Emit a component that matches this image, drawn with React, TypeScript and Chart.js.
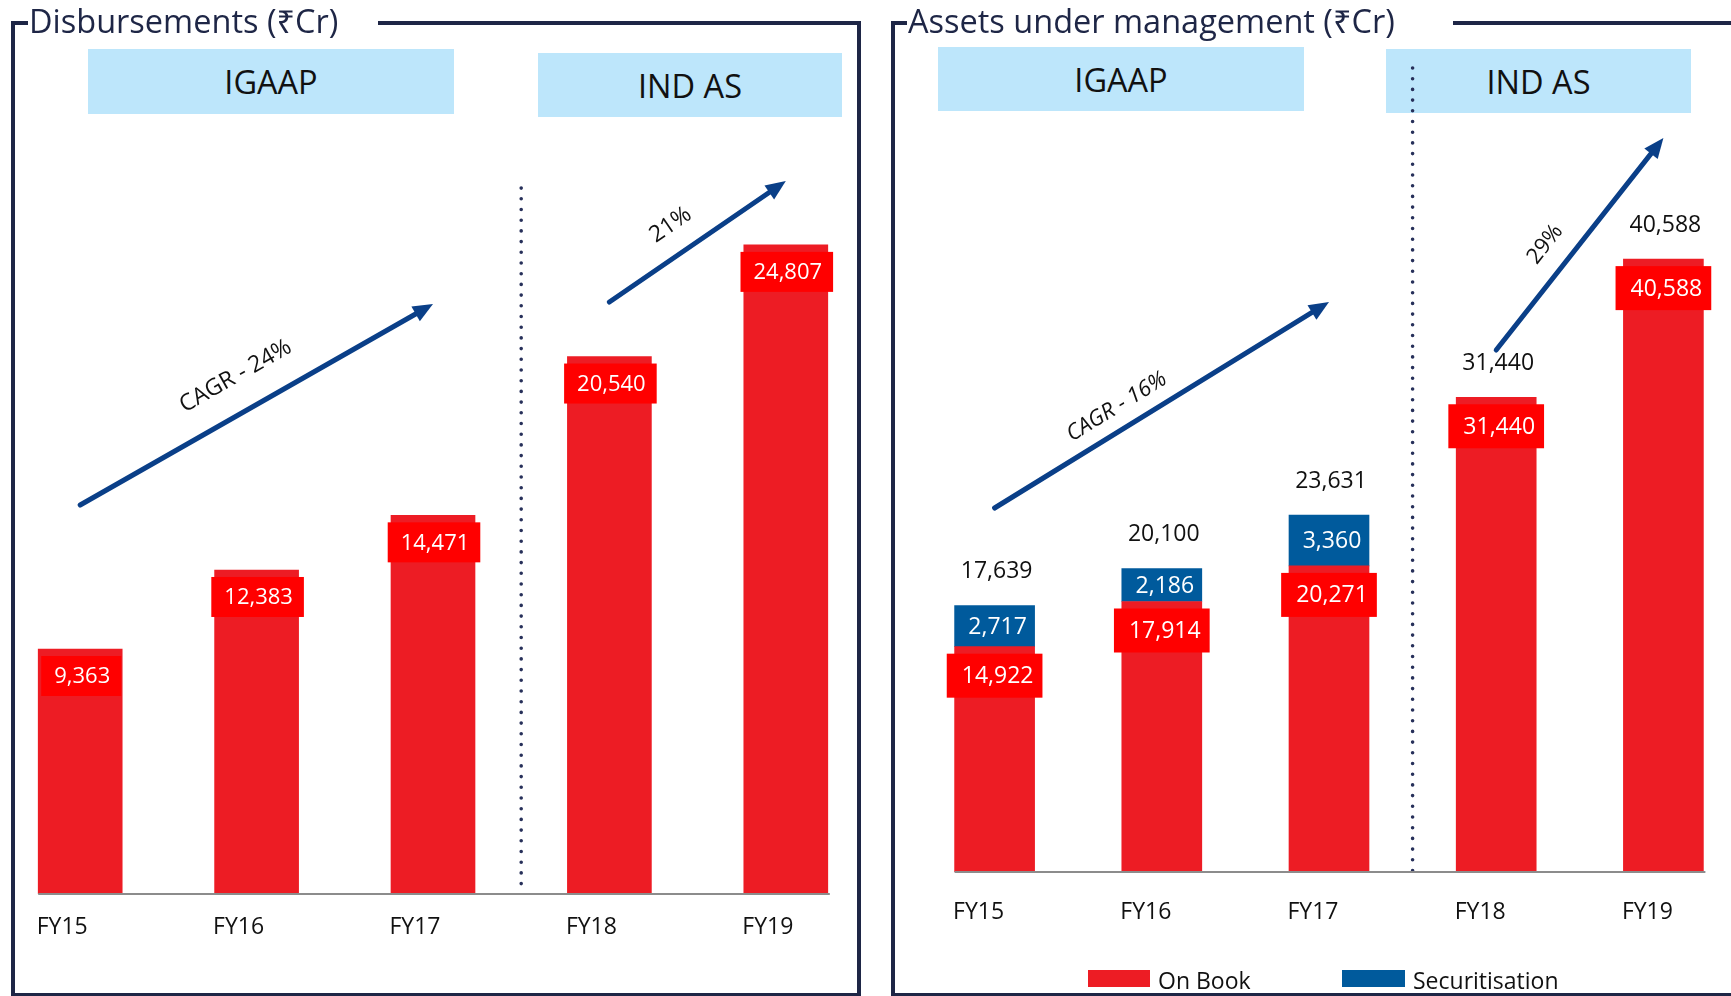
import React, { useEffect, useRef } from "react";
import { Chart, registerables } from "chart.js";

Chart.register(...registerables);

// ---------- data ----------
const categories = ["FY15", "FY16", "FY17", "FY18", "FY19"];
const disbursements = [9363, 12383, 14471, 20540, 24807];
const aumOnBook = [14922, 17914, 20271, 31440, 40588];
const aumSecuritisation = [2717, 2186, 3360, null, null];
const aumTotal = [17639, 20100, 23631, 31440, 40588];

// growth arrows (category index, value)
const disbGrowth = [
  { from: 0, to: 2, fromValue: 14865, toValue: 22545, label: "CAGR - 24%" },
  { from: 3, to: 4, fromValue: 22622, toValue: 27245, label: "21%" },
];
const aumGrowth = [
  { from: 0, to: 2, fromValue: 24106, toValue: 37748, label: "CAGR - 16%" },
  { from: 3, to: 4, fromValue: 34570, toValue: 48609, label: "29%" },
];

// ---------- styles ----------
const disbGrowthLabelPos = [
  { t: 0.49, off: 35, italic: false },
  { t: 0.44, off: 29, italic: false },
];
const aumGrowthLabelPos = [
  { t: 0.4, off: 22, italic: true },
  { t: 0.42, off: 27, italic: false },
];
const RED = "#ed1c24";
const LABEL_RED = "#ff0000";
const BLUE = "#005a9c";
const NAVY = "#1e2646";
const ARROW = "#0a3f88";
const BOX = "#bde6fb";
const AXIS = "#8c8c8c";
const FONT = '"Open Sans", "Noto Sans", sans-serif';

const fmt = (v: number) => v.toLocaleString("en-US");

function drawArrow(ctx: CanvasRenderingContext2D, x1: number, y1: number, x2: number, y2: number) {
  const ang = Math.atan2(y2 - y1, x2 - x1);
  const headLen = 20;
  const headW = 17;
  const bx = x2 - headLen * Math.cos(ang);
  const by = y2 - headLen * Math.sin(ang);
  ctx.save();
  ctx.strokeStyle = ARROW;
  ctx.fillStyle = ARROW;
  ctx.lineWidth = 5;
  ctx.lineCap = "round";
  ctx.beginPath();
  ctx.moveTo(x1, y1);
  ctx.lineTo(bx + 2 * Math.cos(ang), by + 2 * Math.sin(ang));
  ctx.stroke();
  ctx.beginPath();
  ctx.moveTo(x2, y2);
  ctx.lineTo(bx + (headW / 2) * Math.sin(ang), by - (headW / 2) * Math.cos(ang));
  ctx.lineTo(bx - (headW / 2) * Math.sin(ang), by + (headW / 2) * Math.cos(ang));
  ctx.closePath();
  ctx.fill();
  ctx.restore();
}

function drawGrowth(chart: any, items: any[], pos: any[], fontSize: number) {
  const { ctx } = chart;
  const x = chart.scales.x;
  const y = chart.scales.y;
  items.forEach((g, i) => {
    const x1 = x.getPixelForValue(g.from);
    const y1 = y.getPixelForValue(g.fromValue);
    const x2 = x.getPixelForValue(g.to);
    const y2 = y.getPixelForValue(g.toValue);
    drawArrow(ctx, x1, y1, x2, y2);
    const dx = x2 - x1;
    const dy = y2 - y1;
    const len = Math.hypot(dx, dy);
    const p = pos[i];
    const lx = x1 + dx * p.t + (dy / len) * p.off;
    const ly = y1 + dy * p.t + (-dx / len) * p.off;
    ctx.save();
    ctx.translate(lx, ly);
    ctx.rotate(Math.atan2(dy, dx));
    ctx.font = `${p.italic ? "italic " : ""}${fontSize}px ${FONT}`;
    ctx.fillStyle = "#111";
    ctx.textAlign = "center";
    ctx.textBaseline = "middle";
    ctx.fillText(g.label, 0, 0);
    ctx.restore();
  });
}

function drawDivider(chart: any, topValue: number) {
  const { ctx } = chart;
  const x = chart.scales.x;
  const y = chart.scales.y;
  const px = (x.getPixelForValue(2) + x.getPixelForValue(3)) / 2;
  ctx.save();
  ctx.strokeStyle = "#27305a";
  ctx.lineWidth = 3.6;
  ctx.lineCap = "round";
  ctx.setLineDash([0, 10.7]);
  ctx.beginPath();
  ctx.moveTo(px, y.getPixelForValue(topValue));
  ctx.lineTo(px, y.getPixelForValue(0));
  ctx.stroke();
  ctx.restore();
}

function drawBaseline(chart: any) {
  const { ctx } = chart;
  const bars = chart.getDatasetMeta(0).data;
  const first = bars[0];
  const last = bars[bars.length - 1];
  const y0 = chart.scales.y.getPixelForValue(0);
  ctx.save();
  ctx.strokeStyle = AXIS;
  ctx.lineWidth = 2;
  ctx.beginPath();
  ctx.moveTo(first.x - first.width / 2, y0);
  ctx.lineTo(last.x + last.width / 2 + 2, y0);
  ctx.stroke();
  ctx.restore();
}

function drawBoxLabel(ctx: CanvasRenderingContext2D, text: string, cx: number, top: number, h: number, fontSize: number, textShift: number) {
  ctx.save();
  ctx.font = `${fontSize}px ${FONT}`;
  const w = ctx.measureText(text).width + 24;
  ctx.fillStyle = LABEL_RED;
  ctx.fillRect(cx - w / 2, top, w, h);
  ctx.fillStyle = "#fff";
  ctx.textAlign = "center";
  ctx.textBaseline = "middle";
  ctx.fillText(text, cx + textShift, top + h / 2 + 1);
  ctx.restore();
}

const disbOverlay = {
  id: "disbOverlay",
  beforeDatasetsDraw(chart: any) {
    drawDivider(chart, 26977);
  },
  afterDatasetsDraw(chart: any) {
    const { ctx } = chart;
    drawBaseline(chart);
    chart.getDatasetMeta(0).data.forEach((bar: any, i: number) => {
      drawBoxLabel(ctx, fmt(disbursements[i]), bar.x + 1, bar.y + 7, 40, 22, 1);
    });
    drawGrowth(chart, disbGrowth, disbGrowthLabelPos, 23);
  },
};

const aumOverlay = {
  id: "aumOverlay",
  beforeDatasetsDraw(chart: any) {
    drawDivider(chart, 53245);
  },
  afterDatasetsDraw(chart: any) {
    const { ctx } = chart;
    drawBaseline(chart);
    const onBookBars = chart.getDatasetMeta(0).data;
    const secBars = chart.getDatasetMeta(1).data;
    onBookBars.forEach((bar: any, i: number) => {
      drawBoxLabel(ctx, fmt(aumOnBook[i]), bar.x, bar.y + 7, 44, 23, 3);
      let top = bar.y;
      const s = aumSecuritisation[i];
      if (s !== null && s !== undefined) {
        const sb = secBars[i];
        top = Math.min(top, sb.y);
        ctx.save();
        ctx.font = `23px ${FONT}`;
        ctx.fillStyle = "#fff";
        ctx.textAlign = "center";
        ctx.textBaseline = "middle";
        ctx.fillText(fmt(s), sb.x + 3, (sb.y + sb.base) / 2 + 1);
        ctx.restore();
      }
      ctx.save();
      ctx.font = `23px ${FONT}`;
      ctx.fillStyle = "#111";
      ctx.textAlign = "center";
      ctx.textBaseline = "middle";
      ctx.fillText(fmt(aumTotal[i]), bar.x + 2, top - 34);
      ctx.restore();
    });
    drawGrowth(chart, aumGrowth, aumGrowthLabelPos, 22);
  },
};

const abs = (s: React.CSSProperties): React.CSSProperties => ({ position: "absolute", ...s });

export default function App() {
  const leftRef = useRef<HTMLCanvasElement>(null);
  const rightRef = useRef<HTMLCanvasElement>(null);

  useEffect(() => {
    const left = new Chart(leftRef.current as HTMLCanvasElement, {
      type: "bar",
      data: {
        labels: categories,
        datasets: [
          {
            label: "Disbursements",
            data: disbursements,
            backgroundColor: RED,
            borderWidth: 0,
            barThickness: 84,
          },
        ],
      },
      options: {
        responsive: false,
        animation: false,
        layout: { padding: 0 },
        plugins: { legend: { display: false }, tooltip: { enabled: false } },
        scales: {
          x: {
            grid: { display: false, drawTicks: false },
            border: { display: false },
            ticks: { color: "#111", font: { family: FONT, size: 23 }, padding: 20, labelOffset: -18 },
            afterFit: (s: any) => {
              s.height = 46;
            },
          },
          y: { display: false, min: 0, max: 30000 },
        },
      },
      plugins: [disbOverlay],
    } as any);

    const right = new Chart(rightRef.current as HTMLCanvasElement, {
      type: "bar",
      data: {
        labels: categories,
        datasets: [
          {
            label: "On Book",
            data: aumOnBook,
            backgroundColor: RED,
            borderWidth: 0,
            barThickness: 80,
          },
          {
            label: "Securitisation",
            data: aumSecuritisation,
            backgroundColor: BLUE,
            borderWidth: 0,
            barThickness: 80,
          },
        ],
      },
      options: {
        responsive: false,
        animation: false,
        layout: { padding: { top: 77, left: 0, right: 0, bottom: 0 } },
        plugins: { legend: { display: false }, tooltip: { enabled: false } },
        scales: {
          x: {
            stacked: true,
            grid: { display: false, drawTicks: false },
            border: { display: false },
            ticks: { color: "#111", font: { family: FONT, size: 23 }, padding: 27, labelOffset: -16 },
            afterFit: (s: any) => {
              s.height = 60;
            },
          },
          y: { display: false, stacked: true, min: 0, max: 50000 },
        },
      },
      plugins: [aumOverlay],
    } as any);

    return () => {
      left.destroy();
      right.destroy();
    };
  }, []);

  const boxText: React.CSSProperties = {
    display: "flex",
    alignItems: "center",
    justifyContent: "center",
    background: BOX,
    fontSize: 32.5,
    color: "#111",
  };
  const line = (l: number, t: number, w: number, h: number) => (
    <div style={abs({ left: l, top: t, width: w, height: h, background: NAVY })} />
  );

  return (
    <div
      style={abs({
        left: 0,
        top: 0,
        width: 1731,
        height: 996,
        overflow: "hidden",
        background: "#fff",
        fontFamily: FONT,
      })}
    >
      {/* header boxes */}
      <div style={abs({ left: 88, top: 49, width: 366, height: 65, ...boxText })}>IGAAP</div>
      <div style={abs({ left: 538, top: 53, width: 304, height: 64, ...boxText })}>IND AS</div>
      <div style={abs({ left: 938, top: 47, width: 366, height: 64, ...boxText })}>IGAAP</div>
      <div style={abs({ left: 1386, top: 49, width: 305, height: 64, ...boxText })}>IND AS</div>

      {/* charts */}
      <canvas ref={leftRef} width={882} height={831} style={abs({ left: -8, top: 109 })} />
      <canvas ref={rightRef} width={836} height={892} style={abs({ left: 911, top: 40 })} />

      {/* frames */}
      {line(11, 21, 4, 976)}
      {line(11, 21, 17, 4)}
      {line(378, 21, 483, 4)}
      {line(857, 21, 4, 976)}
      {line(11, 993, 850, 4)}
      {line(891, 21, 4, 976)}
      {line(891, 21, 16, 4)}
      {line(1453, 21, 300, 4)}
      {line(891, 993, 860, 4)}

      {/* titles */}
      <div style={abs({ left: 29, top: 0, fontSize: 32.5, lineHeight: "42px", color: NAVY, whiteSpace: "nowrap" })}>
        Disbursements (₹Cr)
      </div>
      <div style={abs({ left: 908, top: 0, fontSize: 32.5, lineHeight: "42px", color: NAVY, whiteSpace: "nowrap" })}>
        Assets under management (₹Cr)
      </div>

      {/* legend */}
      <div style={abs({ left: 1088, top: 970, width: 62, height: 17, background: RED })} />
      <div style={abs({ left: 1158, top: 962, fontSize: 23, lineHeight: "36px", color: "#111", whiteSpace: "nowrap" })}>
        On Book
      </div>
      <div style={abs({ left: 1342, top: 970, width: 63, height: 17, background: BLUE })} />
      <div style={abs({ left: 1413, top: 962, fontSize: 23, lineHeight: "36px", color: "#111", whiteSpace: "nowrap" })}>
        Securitisation
      </div>
    </div>
  );
}
